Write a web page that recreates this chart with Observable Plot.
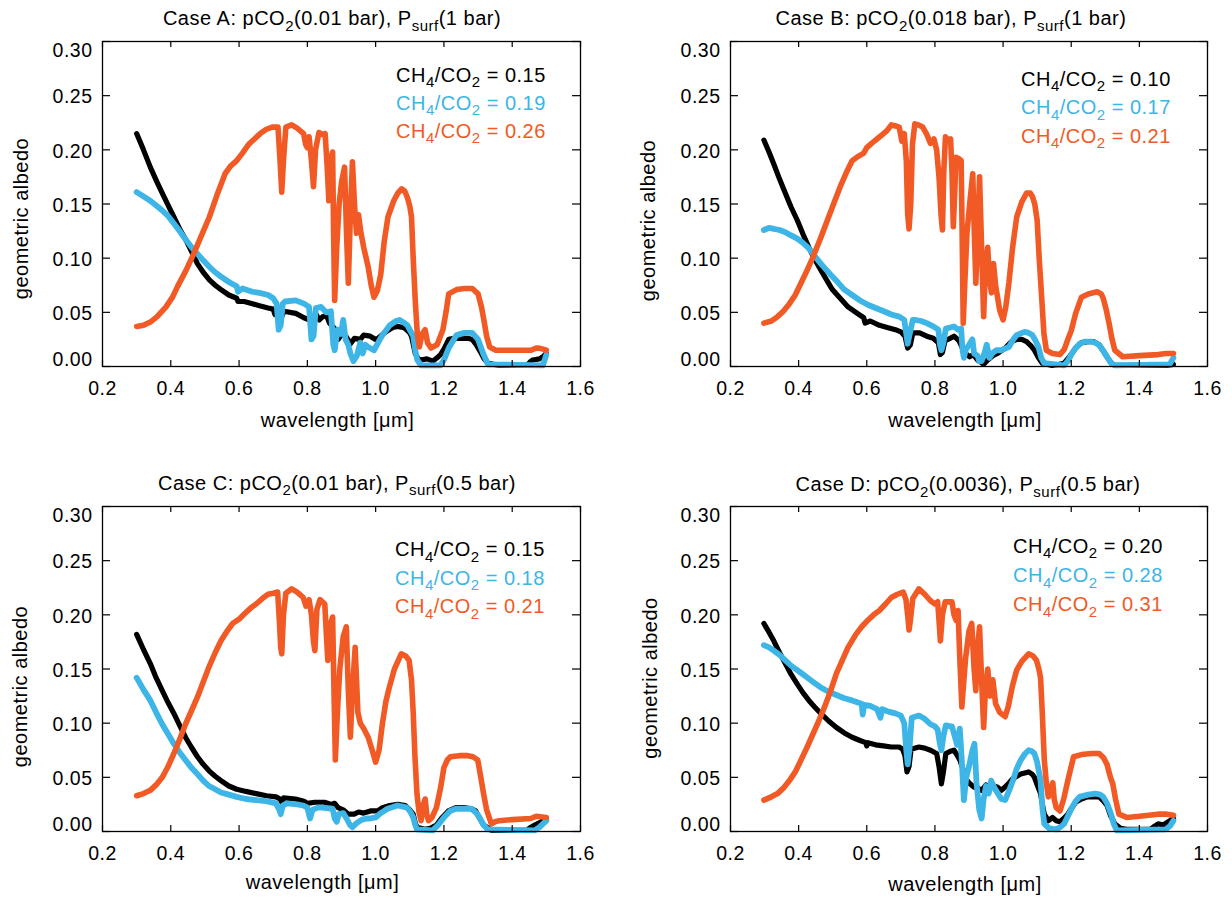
<!DOCTYPE html>
<html>
<head>
<meta charset="utf-8">
<script src="https://cdn.jsdelivr.net/npm/d3@7"></script>
<script src="https://cdn.jsdelivr.net/npm/@observablehq/plot@0.6"></script>
<style>
  html, body { margin: 0; padding: 0; background: #fff; }
  #page { position: relative; width: 1232px; height: 903px; overflow: hidden; background: #fff; }
  .panel { position: absolute; }
  .txt { position: absolute; font-family: "Liberation Sans", Arial, Helvetica, sans-serif; font-size: 20px;
         line-height: 20px; white-space: nowrap; letter-spacing: 0.5px; color: #000; }
  .txt sub { font-size: 15px; line-height: 0; vertical-align: baseline; position: relative; top: 5.5px; }
</style>
</head>
<body>
<div id="page"></div>
<script>
// ---------------- DATA ----------------
const caseLetters = ["A", "B", "C", "D"];
const casePCO2 = ["0.01 bar", "0.018 bar", "0.01 bar", "0.0036"];
const casePsurf = ["1 bar", "1 bar", "0.5 bar", "0.5 bar"];
const ratioBlack = ["0.15", "0.10", "0.15", "0.20"];
const ratioBlue = ["0.19", "0.17", "0.18", "0.28"];
const ratioOrange = ["0.26", "0.21", "0.21", "0.31"];
const xTicks = [0.2, 0.4, 0.6, 0.8, 1.0, 1.2, 1.4, 1.6];
const yTicks = [0.00, 0.05, 0.10, 0.15, 0.20, 0.25, 0.30];
const xLabel = "wavelength [μm]";
const yLabel = "geometric albedo";

// [wavelength (μm), geometric albedo]
const caseA_black = [[0.300,0.215],[0.320,0.200],[0.340,0.184],[0.360,0.170],[0.375,0.160],[0.392,0.149],[0.409,0.138],[0.426,0.127],[0.444,0.117],[0.461,0.106],[0.478,0.095],[0.495,0.087],[0.513,0.080],[0.530,0.075],[0.547,0.071],[0.570,0.066],[0.593,0.063],[0.597,0.060],[0.615,0.060],[0.639,0.058],[0.660,0.056],[0.685,0.054],[0.700,0.053],[0.705,0.048],[0.710,0.052],[0.720,0.051],[0.725,0.046],[0.731,0.051],[0.766,0.049],[0.790,0.045],[0.805,0.043],[0.815,0.045],[0.826,0.048],[0.835,0.043],[0.845,0.046],[0.856,0.047],[0.865,0.040],[0.880,0.035],[0.890,0.025],[0.903,0.031],[0.915,0.027],[0.926,0.021],[0.938,0.026],[0.955,0.025],[0.965,0.029],[0.984,0.028],[1.000,0.025],[1.007,0.026],[1.030,0.032],[1.050,0.036],[1.064,0.037],[1.080,0.036],[1.087,0.035],[1.100,0.031],[1.105,0.028],[1.116,0.012],[1.125,0.007],[1.133,0.006],[1.150,0.007],[1.168,0.005],[1.180,0.008],[1.190,0.011],[1.200,0.016],[1.214,0.025],[1.230,0.026],[1.249,0.026],[1.270,0.026],[1.283,0.025],[1.295,0.020],[1.306,0.014],[1.318,0.007],[1.329,0.003],[1.363,0.001],[1.443,0.001],[1.455,0.005],[1.460,0.006],[1.480,0.007],[1.490,0.009],[1.500,0.012]];
const caseA_blue = [[0.300,0.161],[0.320,0.157],[0.340,0.153],[0.360,0.148],[0.375,0.144],[0.392,0.139],[0.409,0.132],[0.426,0.125],[0.444,0.117],[0.461,0.110],[0.478,0.104],[0.495,0.098],[0.513,0.092],[0.530,0.087],[0.547,0.083],[0.570,0.078],[0.593,0.074],[0.597,0.069],[0.610,0.072],[0.639,0.069],[0.660,0.068],[0.685,0.066],[0.700,0.063],[0.710,0.058],[0.716,0.034],[0.722,0.038],[0.728,0.058],[0.735,0.060],[0.766,0.061],[0.790,0.058],[0.805,0.055],[0.812,0.025],[0.818,0.028],[0.825,0.054],[0.840,0.055],[0.855,0.050],[0.869,0.051],[0.876,0.020],[0.880,0.015],[0.888,0.034],[0.898,0.030],[0.905,0.043],[0.912,0.025],[0.920,0.020],[0.926,0.012],[0.935,0.005],[0.945,0.010],[0.955,0.022],[0.962,0.012],[0.970,0.020],[0.978,0.018],[0.995,0.015],[1.018,0.028],[1.041,0.038],[1.060,0.042],[1.070,0.043],[1.085,0.040],[1.093,0.038],[1.110,0.028],[1.116,0.015],[1.122,0.006],[1.133,0.001],[1.190,0.001],[1.200,0.006],[1.214,0.017],[1.237,0.029],[1.260,0.031],[1.283,0.031],[1.300,0.025],[1.315,0.012],[1.329,0.002],[1.490,0.001],[1.500,0.011]];
const caseA_orange = [[0.300,0.037],[0.320,0.038],[0.340,0.041],[0.360,0.046],[0.386,0.055],[0.405,0.064],[0.420,0.074],[0.445,0.089],[0.467,0.104],[0.490,0.121],[0.513,0.138],[0.535,0.158],[0.559,0.178],[0.575,0.185],[0.593,0.190],[0.610,0.197],[0.628,0.205],[0.645,0.210],[0.662,0.215],[0.680,0.219],[0.697,0.221],[0.714,0.221],[0.720,0.190],[0.725,0.161],[0.730,0.190],[0.737,0.221],[0.754,0.223],[0.770,0.220],[0.789,0.215],[0.795,0.205],[0.800,0.202],[0.805,0.212],[0.812,0.190],[0.818,0.166],[0.824,0.200],[0.834,0.216],[0.846,0.214],[0.852,0.215],[0.858,0.185],[0.863,0.153],[0.868,0.190],[0.874,0.198],[0.877,0.120],[0.880,0.061],[0.886,0.110],[0.893,0.150],[0.900,0.170],[0.909,0.184],[0.915,0.120],[0.920,0.077],[0.926,0.140],[0.932,0.189],[0.938,0.150],[0.944,0.123],[0.950,0.140],[0.956,0.125],[0.965,0.110],[0.978,0.092],[0.987,0.075],[0.995,0.064],[1.005,0.070],[1.015,0.085],[1.025,0.115],[1.036,0.138],[1.053,0.153],[1.065,0.160],[1.076,0.164],[1.085,0.162],[1.093,0.156],[1.100,0.148],[1.105,0.138],[1.110,0.100],[1.116,0.061],[1.122,0.030],[1.128,0.018],[1.136,0.030],[1.145,0.034],[1.152,0.022],[1.162,0.017],[1.180,0.020],[1.197,0.034],[1.206,0.050],[1.214,0.067],[1.237,0.071],[1.260,0.072],[1.283,0.072],[1.300,0.067],[1.310,0.055],[1.317,0.043],[1.325,0.028],[1.334,0.018],[1.352,0.015],[1.400,0.015],[1.455,0.015],[1.470,0.017],[1.478,0.017],[1.490,0.016],[1.500,0.015]];

const caseB_black = [[0.298,0.209],[0.313,0.198],[0.327,0.187],[0.344,0.173],[0.361,0.160],[0.378,0.147],[0.396,0.135],[0.413,0.122],[0.430,0.110],[0.447,0.099],[0.465,0.089],[0.482,0.080],[0.499,0.071],[0.522,0.063],[0.545,0.055],[0.568,0.050],[0.591,0.045],[0.595,0.040],[0.610,0.042],[0.637,0.038],[0.660,0.036],[0.684,0.034],[0.700,0.032],[0.712,0.028],[0.720,0.017],[0.728,0.020],[0.735,0.031],[0.755,0.031],[0.776,0.028],[0.795,0.026],[0.810,0.022],[0.816,0.011],[0.822,0.013],[0.830,0.024],[0.845,0.026],[0.856,0.028],[0.870,0.024],[0.879,0.018],[0.890,0.012],[0.902,0.009],[0.913,0.011],[0.925,0.006],[0.935,0.004],[0.943,0.002],[0.955,0.006],[0.970,0.010],[0.983,0.012],[1.006,0.017],[1.025,0.023],[1.040,0.025],[1.055,0.025],[1.069,0.023],[1.082,0.019],[1.092,0.015],[1.104,0.008],[1.115,0.003],[1.144,0.001],[1.165,0.002],[1.179,0.003],[1.195,0.009],[1.213,0.017],[1.230,0.022],[1.248,0.023],[1.265,0.023],[1.282,0.020],[1.295,0.014],[1.305,0.009],[1.318,0.003],[1.328,0.001],[1.480,0.001],[1.500,0.002]];
const caseB_blue = [[0.298,0.126],[0.313,0.128],[0.327,0.127],[0.344,0.126],[0.361,0.124],[0.378,0.121],[0.396,0.118],[0.413,0.114],[0.430,0.109],[0.447,0.102],[0.465,0.095],[0.482,0.089],[0.499,0.083],[0.517,0.077],[0.534,0.071],[0.557,0.066],[0.580,0.061],[0.603,0.057],[0.626,0.054],[0.650,0.051],[0.672,0.048],[0.695,0.046],[0.710,0.043],[0.716,0.030],[0.720,0.021],[0.726,0.030],[0.735,0.043],[0.741,0.043],[0.760,0.042],[0.776,0.040],[0.795,0.037],[0.810,0.034],[0.815,0.020],[0.819,0.015],[0.825,0.022],[0.832,0.035],[0.845,0.036],[0.856,0.037],[0.868,0.034],[0.877,0.035],[0.881,0.015],[0.885,0.008],[0.890,0.015],[0.902,0.021],[0.910,0.025],[0.915,0.012],[0.925,0.010],[0.930,0.005],[0.937,0.005],[0.945,0.012],[0.952,0.020],[0.960,0.008],[0.968,0.012],[0.980,0.015],[0.994,0.015],[1.017,0.018],[1.030,0.025],[1.040,0.029],[1.063,0.032],[1.075,0.031],[1.086,0.029],[1.095,0.024],[1.104,0.018],[1.112,0.008],[1.121,0.003],[1.179,0.001],[1.190,0.005],[1.202,0.012],[1.213,0.017],[1.225,0.021],[1.240,0.023],[1.259,0.023],[1.270,0.022],[1.282,0.020],[1.295,0.014],[1.303,0.010],[1.311,0.006],[1.320,0.002],[1.330,0.001],[1.489,0.002],[1.500,0.008]];
const caseB_orange = [[0.298,0.040],[0.320,0.042],[0.338,0.046],[0.355,0.051],[0.373,0.058],[0.390,0.066],[0.407,0.077],[0.425,0.089],[0.442,0.101],[0.465,0.119],[0.488,0.138],[0.505,0.152],[0.522,0.166],[0.540,0.179],[0.557,0.190],[0.575,0.194],[0.591,0.197],[0.600,0.202],[0.614,0.206],[0.630,0.210],[0.649,0.215],[0.660,0.218],[0.672,0.223],[0.685,0.222],[0.695,0.221],[0.703,0.208],[0.710,0.215],[0.716,0.190],[0.720,0.141],[0.724,0.127],[0.729,0.150],[0.734,0.205],[0.741,0.224],[0.752,0.223],[0.764,0.221],[0.775,0.215],[0.787,0.206],[0.797,0.210],[0.805,0.200],[0.812,0.175],[0.818,0.140],[0.822,0.126],[0.826,0.180],[0.831,0.212],[0.840,0.208],[0.846,0.210],[0.850,0.180],[0.854,0.129],[0.858,0.160],[0.862,0.193],[0.870,0.192],[0.877,0.190],[0.880,0.120],[0.883,0.040],[0.888,0.080],[0.894,0.123],[0.902,0.150],[0.911,0.178],[0.915,0.130],[0.920,0.077],[0.925,0.120],[0.931,0.175],[0.937,0.110],[0.943,0.046],[0.948,0.090],[0.955,0.110],[0.960,0.080],[0.966,0.068],[0.972,0.095],[0.978,0.075],[0.990,0.052],[1.000,0.043],[1.008,0.055],[1.017,0.077],[1.028,0.110],[1.040,0.138],[1.055,0.152],[1.069,0.160],[1.080,0.160],[1.086,0.157],[1.093,0.150],[1.100,0.135],[1.106,0.100],[1.115,0.055],[1.120,0.030],[1.127,0.015],[1.145,0.012],[1.167,0.011],[1.180,0.016],[1.190,0.025],[1.200,0.033],[1.213,0.049],[1.230,0.064],[1.250,0.067],[1.276,0.069],[1.288,0.067],[1.294,0.063],[1.303,0.052],[1.311,0.040],[1.320,0.025],[1.328,0.015],[1.351,0.009],[1.400,0.010],[1.455,0.011],[1.478,0.012],[1.500,0.012]];

const caseC_black = [[0.300,0.182],[0.320,0.168],[0.340,0.155],[0.357,0.142],[0.375,0.130],[0.392,0.119],[0.409,0.109],[0.426,0.098],[0.443,0.087],[0.460,0.078],[0.478,0.069],[0.495,0.062],[0.512,0.056],[0.530,0.051],[0.547,0.047],[0.570,0.042],[0.593,0.039],[0.620,0.037],[0.650,0.035],[0.680,0.033],[0.708,0.032],[0.720,0.030],[0.725,0.027],[0.730,0.031],[0.765,0.030],[0.790,0.028],[0.800,0.026],[0.822,0.027],[0.850,0.027],[0.870,0.025],[0.880,0.026],[0.890,0.022],[0.905,0.020],[0.920,0.016],[0.937,0.016],[0.950,0.018],[0.965,0.017],[0.985,0.019],[1.006,0.019],[1.020,0.022],[1.041,0.024],[1.065,0.025],[1.087,0.024],[1.100,0.020],[1.110,0.016],[1.116,0.008],[1.121,0.004],[1.144,0.002],[1.160,0.003],[1.178,0.006],[1.195,0.013],[1.213,0.019],[1.235,0.022],[1.259,0.022],[1.280,0.021],[1.293,0.019],[1.305,0.012],[1.316,0.006],[1.339,0.001],[1.442,0.001],[1.455,0.004],[1.466,0.006],[1.485,0.009],[1.500,0.012]];
const caseC_blue = [[0.300,0.142],[0.320,0.131],[0.340,0.121],[0.357,0.110],[0.375,0.099],[0.392,0.090],[0.409,0.081],[0.426,0.073],[0.443,0.066],[0.460,0.059],[0.478,0.053],[0.495,0.047],[0.512,0.042],[0.530,0.039],[0.547,0.036],[0.570,0.034],[0.593,0.032],[0.620,0.030],[0.650,0.029],[0.680,0.028],[0.708,0.026],[0.718,0.020],[0.722,0.016],[0.728,0.024],[0.740,0.026],[0.770,0.025],[0.788,0.024],[0.800,0.022],[0.808,0.012],[0.815,0.020],[0.830,0.022],[0.845,0.022],[0.874,0.021],[0.880,0.012],[0.886,0.009],[0.892,0.016],[0.905,0.017],[0.915,0.012],[0.925,0.006],[0.932,0.004],[0.945,0.008],[0.960,0.011],[0.975,0.012],[0.983,0.012],[1.000,0.013],[1.015,0.017],[1.035,0.021],[1.064,0.024],[1.080,0.023],[1.092,0.022],[1.102,0.018],[1.110,0.013],[1.116,0.006],[1.121,0.002],[1.167,0.001],[1.183,0.006],[1.200,0.013],[1.218,0.019],[1.235,0.021],[1.260,0.021],[1.281,0.021],[1.295,0.017],[1.304,0.013],[1.316,0.006],[1.328,0.002],[1.466,0.001],[1.480,0.004],[1.500,0.010]];
const caseC_orange = [[0.300,0.033],[0.320,0.035],[0.340,0.038],[0.357,0.043],[0.375,0.050],[0.392,0.060],[0.409,0.072],[0.426,0.085],[0.443,0.099],[0.460,0.111],[0.478,0.124],[0.495,0.138],[0.512,0.152],[0.530,0.165],[0.547,0.176],[0.565,0.185],[0.581,0.192],[0.600,0.196],[0.616,0.201],[0.633,0.206],[0.650,0.210],[0.668,0.215],[0.685,0.219],[0.700,0.220],[0.713,0.221],[0.718,0.195],[0.722,0.170],[0.725,0.164],[0.730,0.200],[0.737,0.220],[0.754,0.224],[0.770,0.221],[0.788,0.216],[0.796,0.208],[0.805,0.214],[0.812,0.200],[0.818,0.175],[0.822,0.167],[0.828,0.205],[0.837,0.214],[0.851,0.210],[0.856,0.180],[0.860,0.158],[0.866,0.190],[0.874,0.198],[0.878,0.130],[0.882,0.066],[0.888,0.110],[0.895,0.150],[0.905,0.180],[0.914,0.189],[0.920,0.130],[0.926,0.087],[0.932,0.130],[0.940,0.170],[0.948,0.110],[0.955,0.100],[0.965,0.095],[0.978,0.087],[0.990,0.075],[1.000,0.064],[1.010,0.075],[1.020,0.100],[1.030,0.120],[1.040,0.133],[1.055,0.150],[1.075,0.164],[1.088,0.162],[1.098,0.158],[1.105,0.140],[1.110,0.110],[1.115,0.070],[1.121,0.035],[1.127,0.018],[1.133,0.010],[1.140,0.025],[1.145,0.030],[1.150,0.015],[1.155,0.010],[1.165,0.013],[1.178,0.022],[1.190,0.040],[1.200,0.059],[1.210,0.066],[1.219,0.069],[1.245,0.070],[1.270,0.070],[1.285,0.069],[1.299,0.066],[1.308,0.050],[1.316,0.035],[1.325,0.020],[1.339,0.007],[1.350,0.009],[1.362,0.010],[1.400,0.011],[1.454,0.012],[1.470,0.014],[1.500,0.013]];

const caseD_black = [[0.298,0.192],[0.313,0.184],[0.327,0.176],[0.344,0.165],[0.361,0.155],[0.378,0.145],[0.396,0.136],[0.413,0.128],[0.430,0.121],[0.447,0.115],[0.465,0.109],[0.488,0.102],[0.511,0.096],[0.534,0.091],[0.557,0.087],[0.580,0.084],[0.597,0.082],[0.600,0.079],[0.603,0.082],[0.626,0.080],[0.649,0.079],[0.672,0.078],[0.695,0.078],[0.705,0.076],[0.712,0.070],[0.718,0.055],[0.724,0.060],[0.730,0.076],[0.753,0.078],[0.770,0.077],[0.787,0.075],[0.805,0.072],[0.812,0.060],[0.819,0.044],[0.825,0.055],[0.832,0.072],[0.845,0.074],[0.856,0.075],[0.866,0.070],[0.873,0.066],[0.882,0.058],[0.892,0.048],[0.903,0.044],[0.914,0.041],[0.925,0.040],[0.937,0.038],[0.950,0.043],[0.960,0.041],[0.970,0.042],[0.983,0.041],[0.995,0.038],[1.006,0.041],[1.018,0.045],[1.029,0.049],[1.052,0.053],[1.075,0.055],[1.085,0.053],[1.092,0.050],[1.100,0.043],[1.110,0.035],[1.116,0.024],[1.121,0.016],[1.133,0.010],[1.145,0.013],[1.156,0.010],[1.167,0.009],[1.178,0.012],[1.190,0.016],[1.200,0.021],[1.213,0.027],[1.230,0.030],[1.248,0.032],[1.265,0.032],[1.282,0.032],[1.295,0.028],[1.305,0.024],[1.315,0.015],[1.328,0.007],[1.345,0.003],[1.363,0.002],[1.432,0.002],[1.445,0.005],[1.455,0.007],[1.470,0.006],[1.485,0.009],[1.500,0.012]];
const caseD_blue = [[0.298,0.172],[0.313,0.170],[0.327,0.167],[0.344,0.163],[0.361,0.158],[0.378,0.153],[0.396,0.149],[0.413,0.145],[0.430,0.141],[0.447,0.137],[0.465,0.133],[0.488,0.129],[0.511,0.126],[0.534,0.123],[0.557,0.121],[0.574,0.119],[0.585,0.118],[0.588,0.108],[0.592,0.117],[0.610,0.116],[0.630,0.113],[0.640,0.105],[0.645,0.113],[0.660,0.111],[0.672,0.110],[0.684,0.109],[0.700,0.107],[0.710,0.100],[0.716,0.075],[0.720,0.062],[0.725,0.075],[0.732,0.105],[0.753,0.107],[0.770,0.104],[0.787,0.099],[0.800,0.097],[0.808,0.094],[0.814,0.082],[0.819,0.075],[0.825,0.088],[0.832,0.098],[0.845,0.097],[0.850,0.097],[0.858,0.088],[0.865,0.080],[0.873,0.095],[0.878,0.070],[0.885,0.029],[0.892,0.050],[0.900,0.060],[0.910,0.075],[0.916,0.081],[0.922,0.045],[0.930,0.020],[0.937,0.012],[0.943,0.030],[0.950,0.042],[0.958,0.035],[0.965,0.047],[0.975,0.040],[0.985,0.035],[0.995,0.030],[1.006,0.029],[1.018,0.038],[1.029,0.047],[1.040,0.058],[1.052,0.066],[1.065,0.072],[1.075,0.075],[1.085,0.074],[1.092,0.072],[1.100,0.064],[1.110,0.047],[1.116,0.020],[1.121,0.007],[1.135,0.003],[1.156,0.002],[1.168,0.004],[1.179,0.007],[1.190,0.014],[1.202,0.022],[1.213,0.028],[1.225,0.032],[1.250,0.034],[1.271,0.035],[1.285,0.034],[1.294,0.032],[1.305,0.026],[1.317,0.016],[1.325,0.007],[1.334,0.001],[1.478,0.002],[1.490,0.005],[1.500,0.010]];
const caseD_orange = [[0.298,0.029],[0.320,0.032],[0.338,0.035],[0.355,0.040],[0.373,0.047],[0.390,0.055],[0.407,0.066],[0.425,0.078],[0.442,0.090],[0.459,0.102],[0.476,0.115],[0.494,0.130],[0.511,0.146],[0.528,0.158],[0.545,0.170],[0.568,0.182],[0.585,0.189],[0.603,0.195],[0.620,0.200],[0.637,0.204],[0.655,0.210],[0.672,0.216],[0.690,0.219],[0.707,0.221],[0.715,0.214],[0.720,0.200],[0.724,0.186],[0.728,0.195],[0.735,0.215],[0.753,0.224],[0.770,0.219],[0.787,0.213],[0.800,0.210],[0.808,0.212],[0.812,0.195],[0.816,0.176],[0.822,0.200],[0.830,0.212],[0.850,0.212],[0.856,0.200],[0.862,0.195],[0.868,0.204],[0.873,0.160],[0.879,0.115],[0.885,0.140],[0.890,0.160],[0.900,0.185],[0.908,0.192],[0.915,0.150],[0.920,0.130],[0.925,0.170],[0.931,0.189],[0.937,0.140],[0.943,0.096],[0.948,0.130],[0.955,0.150],[0.962,0.125],[0.970,0.140],[0.978,0.118],[0.990,0.110],[1.006,0.106],[1.015,0.115],[1.028,0.135],[1.040,0.149],[1.055,0.157],[1.075,0.164],[1.088,0.162],[1.098,0.158],[1.105,0.150],[1.110,0.142],[1.115,0.110],[1.121,0.066],[1.127,0.045],[1.133,0.032],[1.140,0.040],[1.146,0.045],[1.150,0.030],[1.156,0.022],[1.167,0.019],[1.178,0.030],[1.190,0.047],[1.200,0.060],[1.207,0.069],[1.230,0.071],[1.260,0.072],[1.282,0.072],[1.295,0.068],[1.305,0.062],[1.315,0.050],[1.322,0.044],[1.330,0.030],[1.340,0.016],[1.363,0.013],[1.400,0.014],[1.455,0.016],[1.480,0.016],[1.500,0.015]];

const seriesBlack = [caseA_black, caseB_black, caseC_black, caseD_black];
const seriesBlue = [caseA_blue, caseB_blue, caseC_blue, caseD_blue];
const seriesOrange = [caseA_orange, caseB_orange, caseC_orange, caseD_orange];

// ---------------- LAYOUT / STYLE ----------------
const COLORS = {black: "#000000", blue: "#3DB5E6", orange: "#F15A24"};
const FONT = '"Liberation Sans", Arial, Helvetica, sans-serif';
const layout = [
  {left: 0,   top: 0,   h: 460, ml: 102, mr: 36, mt: 41, mb: 94, titleC: 332, titleB: 25,
   legL: 396, legB: [81.7, 109.7, 137.7], xlDx: -4, xlDy: 60.7, ylDx: -74.2, ylDy: 14.5},
  {left: 616, top: 0,   h: 460, ml: 114, mr: 25, mt: 41, mb: 94, titleC: 951, titleB: 25,
   legL: 1021, legB: [85.5, 114, 142.5], xlDx: -4, xlDy: 60.7, ylDx: -76, ylDy: 16.5},
  {left: 0,   top: 460, h: 443, ml: 102, mr: 36, mt: 46, mb: 72, titleC: 337, titleB: 489.5,
   legL: 395, legB: [556, 584.5, 613], xlDx: -19, xlDy: 57, ylDx: -75.3, ylDy: 17.5},
  {left: 616, top: 460, h: 443, ml: 114, mr: 25, mt: 46, mb: 72, titleC: 968, titleB: 491,
   legL: 1013, legB: [552.7, 582, 611.3], xlDx: -4, xlDy: 59, ylDx: -74, ylDy: 9}
];
const W = 616;
const BASE = 16.9; // baseline offset for 20px text with 20px line-height

const page = document.getElementById("page");
const fmtX = d3.format(".1f");
const fmtY = d3.format(".2f");

function addText(html, left, baseline, color, opts = {}) {
  const d = document.createElement("div");
  d.className = "txt";
  d.innerHTML = html;
  d.style.top = (baseline - BASE) + "px";
  d.style.color = color;
  if (opts.center != null) {
    d.style.left = (opts.center - 300) + "px";
    d.style.width = "600px";
    d.style.textAlign = "center";
  } else {
    d.style.left = left + "px";
  }
  page.appendChild(d);
}

layout.forEach((L, i) => {
  const innerW = W - L.ml - L.mr;
  const innerH = L.h - L.mt - L.mb;
  const midY = yTicks.filter(v => v > 0 && v < 0.3);
  const lineOpts = {x: d => d[0], y: d => d[1], strokeLinejoin: "round", strokeLinecap: "round"};
  const chart = Plot.plot({
    width: W, height: L.h,
    marginLeft: L.ml, marginRight: L.mr, marginTop: L.mt, marginBottom: L.mb,
    x: {domain: [0.2, 1.6]},
    y: {domain: [0, 0.30]},
    style: {fontFamily: FONT, fontSize: "20px", letterSpacing: "0.5px", color: "#000", background: "transparent", overflow: "visible"},
    marks: [
      Plot.line(seriesBlack[i], {...lineOpts, stroke: COLORS.black, strokeWidth: 5.2}),
      Plot.line(seriesBlue[i], {...lineOpts, stroke: COLORS.blue, strokeWidth: 5.8}),
      Plot.line(seriesOrange[i], {...lineOpts, stroke: COLORS.orange, strokeWidth: 5.6}),
      Plot.frame({stroke: "#000", strokeWidth: 1.3}),
      // inward ticks on all four sides
      Plot.ruleX(xTicks, {x: d => d, insetTop: innerH - 6, stroke: "#000", strokeWidth: 1.2}),
      Plot.ruleX(xTicks, {x: d => d, insetBottom: innerH - 6, stroke: "#000", strokeWidth: 1.2}),
      Plot.ruleY(yTicks, {y: d => d, insetRight: innerW - 8, stroke: "#000", strokeWidth: 1.2}),
      Plot.ruleY(yTicks, {y: d => d, insetLeft: innerW - 8, stroke: "#000", strokeWidth: 1.2}),
      // tick labels
      Plot.axisX(xTicks, {tickSize: 0, tickPadding: 15, tickFormat: fmtX, label: null, fontSize: 19.5}),
      Plot.axisY(midY, {tickSize: 0, tickPadding: 10, tickFormat: fmtY, label: null, fontSize: 19.5, dy: 1.5}),
      Plot.axisY([0.30], {tickSize: 0, tickPadding: 10, tickFormat: fmtY, label: null, fontSize: 19.5, dy: 9}),
      Plot.axisY([0.00], {tickSize: 0, tickPadding: 10, tickFormat: fmtY, label: null, fontSize: 19.5, dy: -6.5}),
      // axis titles
      Plot.text([xLabel], {text: d => d, frameAnchor: "bottom", textAnchor: "middle", lineAnchor: "bottom", dx: L.xlDx, dy: L.xlDy, fontSize: 20}),
      Plot.text([yLabel], {text: d => d, frameAnchor: "left", textAnchor: "middle", lineAnchor: "bottom", rotate: -90, dx: L.ylDx, dy: L.ylDy, fontSize: 20})
    ]
  });
  const holder = document.createElement("div");
  holder.className = "panel";
  holder.style.left = L.left + "px";
  holder.style.top = L.top + "px";
  holder.appendChild(chart);
  page.appendChild(holder);

  addText(`Case ${caseLetters[i]}: pCO<sub>2</sub>(${casePCO2[i]}), P<sub>surf</sub>(${casePsurf[i]})`, 0, L.titleB, "#000", {center: L.titleC});
  addText(`CH<sub>4</sub>/CO<sub>2</sub> = ${ratioBlack[i]}`, L.legL, L.legB[0], COLORS.black);
  addText(`CH<sub>4</sub>/CO<sub>2</sub> = ${ratioBlue[i]}`, L.legL, L.legB[1], COLORS.blue);
  addText(`CH<sub>4</sub>/CO<sub>2</sub> = ${ratioOrange[i]}`, L.legL, L.legB[2], COLORS.orange);
});
</script>
</body>
</html>
